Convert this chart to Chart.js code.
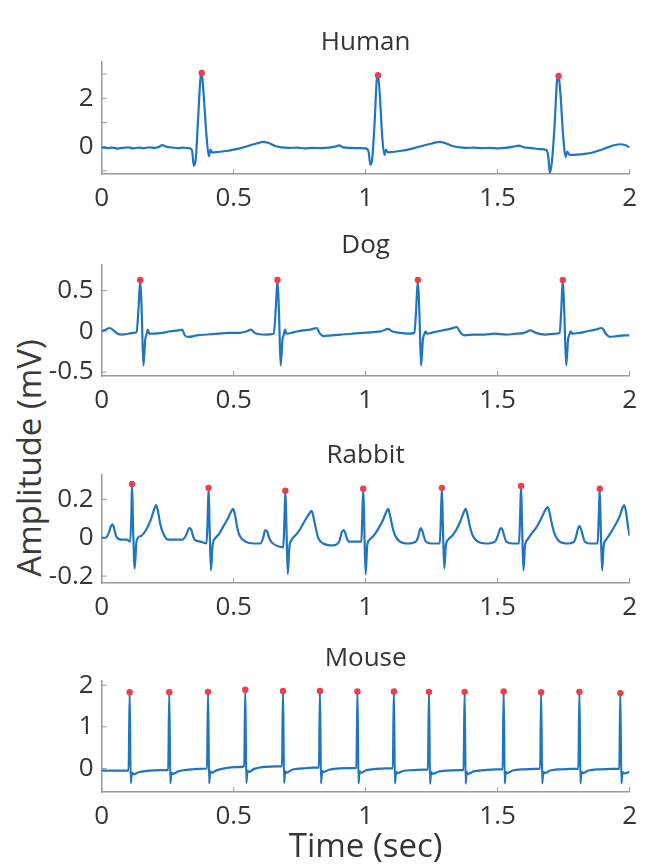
<!DOCTYPE html>
<html>
<head>
<meta charset="utf-8">
<script src="https://cdn.jsdelivr.net/npm/chart.js@4.4.1/dist/chart.umd.min.js"></script>
<style>
	html, body { margin: 0; padding: 0; background: #fff; }
	body { width: 646px; height: 866px; overflow: hidden; position: relative; font-family: 'Open Sans', sans-serif; }
	.panel { position: absolute; left: 0; }
	#ylab {
		position: absolute; left: 29px; top: 458px;
		transform: translate(-50%, -50%) rotate(-90deg);
		white-space: nowrap; font-size: 33px; line-height: 1.2; color: #3a3a3a;
	}
</style>
</head>
<body>

<div id="ylab">Amplitude (mV)</div>

<script>
// ---- data: [time (s), amplitude (mV)] ----
const timeTicks = [0, 0.5, 1, 1.5, 2];

const humanTrace = [
	[0,-0.03],[0.02,-0.06],[0.04,-0.04],[0.06,-0.08],[0.08,-0.05],[0.1,-0.03],[0.12,-0.07],[0.14,-0.04],
	[0.16,-0.06],[0.18,-0.03],[0.2,-0.05],[0.215,-0.02],[0.23,0.06],[0.245,0.0],[0.27,-0.04],[0.29,-0.06],
	[0.31,-0.04],[0.33,-0.06],[0.342,-0.15],[0.349,-0.78],[0.356,-0.55],[0.365,1.1],[0.374,2.8],[0.379,3.05],
	[0.386,2.2],[0.396,0.6],[0.406,-0.4],[0.412,-0.12],[0.418,-0.24],[0.44,-0.22],[0.47,-0.18],[0.5,-0.12],
	[0.53,-0.05],[0.56,0.05],[0.59,0.14],[0.61,0.2],[0.63,0.16],[0.655,0.04],[0.68,-0.03],[0.71,-0.05],
	[0.74,-0.04],[0.77,-0.07],[0.8,-0.05],[0.83,-0.06],[0.86,-0.04],[0.885,0.0],[0.9,0.05],[0.915,-0.03],
	[0.94,-0.05],[0.97,-0.06],[1.0,-0.07],[1.011,-0.2],[1.018,-0.75],[1.025,-0.5],[1.034,1.0],[1.042,2.75],
	[1.047,2.95],[1.054,2.1],[1.063,0.4],[1.071,-0.35],[1.077,-0.12],[1.084,-0.24],[1.1,-0.22],[1.13,-0.18],
	[1.16,-0.12],[1.19,-0.04],[1.22,0.05],[1.25,0.13],[1.28,0.2],[1.3,0.15],[1.325,0.04],[1.35,-0.02],
	[1.38,-0.05],[1.41,-0.04],[1.44,-0.06],[1.47,-0.05],[1.5,-0.07],[1.53,-0.05],[1.56,0.0],[1.58,0.04],
	[1.6,-0.03],[1.63,-0.06],[1.66,-0.1],[1.685,-0.14],[1.692,-0.4],[1.698,-1.08],[1.706,-0.6],[1.716,0.9],
	[1.725,2.7],[1.731,2.92],[1.738,2.2],[1.748,0.5],[1.758,-0.42],[1.764,-0.2],[1.772,-0.34],[1.8,-0.33],
	[1.83,-0.3],[1.86,-0.24],[1.89,-0.14],[1.92,-0.02],[1.945,0.07],[1.965,0.1],[1.985,0.06],[2.0,-0.03]
];
const humanPeakTime = [0.379, 1.047, 1.731];
const humanPeakAmp = [3.05, 2.95, 2.92];

const dogTrace = [
	[0,0.0],[0.015,0.02],[0.03,0.04],[0.045,0.01],[0.06,-0.03],[0.08,-0.04],[0.1,-0.03],[0.12,-0.02],
	[0.132,-0.01],[0.139,0.25],[0.146,0.63],[0.152,0.2],[0.158,-0.42],[0.165,-0.1],[0.17,-0.04],[0.175,0.02],
	[0.18,-0.03],[0.2,-0.03],[0.23,-0.02],[0.26,0.0],[0.29,0.01],[0.305,0.02],[0.315,-0.05],[0.33,-0.07],
	[0.36,-0.05],[0.4,-0.04],[0.44,-0.03],[0.48,-0.02],[0.52,-0.02],[0.55,0.0],[0.565,0.02],[0.58,-0.02],
	[0.62,-0.04],[0.652,-0.03],[0.659,0.25],[0.666,0.63],[0.672,0.2],[0.678,-0.42],[0.685,-0.1],[0.69,-0.04],
	[0.695,0.02],[0.7,-0.03],[0.73,-0.01],[0.76,0.01],[0.79,0.02],[0.815,0.04],[0.825,-0.02],[0.84,-0.06],
	[0.87,-0.05],[0.91,-0.04],[0.95,-0.03],[0.99,-0.02],[1.03,-0.01],[1.06,0.0],[1.085,0.03],[1.1,0.0],
	[1.13,-0.02],[1.16,-0.03],[1.185,-0.02],[1.191,0.25],[1.198,0.63],[1.204,0.2],[1.21,-0.42],[1.217,-0.1],
	[1.222,-0.04],[1.227,0.0],[1.232,-0.03],[1.26,-0.01],[1.29,0.01],[1.32,0.03],[1.345,0.05],[1.36,-0.02],
	[1.375,-0.05],[1.41,-0.04],[1.45,-0.04],[1.49,-0.03],[1.53,-0.04],[1.57,-0.03],[1.6,-0.02],[1.625,0.01],
	[1.645,-0.02],[1.68,-0.04],[1.72,-0.03],[1.735,-0.02],[1.741,0.25],[1.747,0.63],[1.753,0.2],[1.76,-0.42],
	[1.767,-0.1],[1.772,-0.04],[1.777,0.0],[1.782,-0.03],[1.81,-0.02],[1.84,0.0],[1.87,0.02],[1.895,0.04],
	[1.91,-0.03],[1.925,-0.07],[1.95,-0.06],[1.98,-0.05],[2.0,-0.05]
];
const dogPeakTime = [0.146, 0.666, 1.198, 1.747];
const dogPeakAmp = [0.63, 0.63, 0.63, 0.63];

const rabbitTrace = [
	[0,0.0],[0.015,0.0],[0.028,0.03],[0.035,0.06],[0.04,0.07],[0.046,0.055],[0.052,0.02],[0.058,0.0],
	[0.075,-0.01],[0.095,-0.01],[0.108,-0.02],[0.112,0.1],[0.115,0.28],[0.119,0.05],[0.125,-0.16],[0.131,-0.03],
	[0.137,0.0],[0.15,0.01],[0.168,0.04],[0.185,0.09],[0.197,0.14],[0.206,0.17],[0.213,0.14],[0.222,0.07],
	[0.231,0.03],[0.25,-0.01],[0.28,-0.01],[0.306,-0.01],[0.322,0.02],[0.329,0.045],[0.334,0.05],[0.34,0.04],
	[0.346,0.01],[0.352,-0.01],[0.375,-0.02],[0.397,-0.03],[0.401,0.08],[0.405,0.26],[0.409,0.05],[0.414,-0.17],
	[0.42,-0.04],[0.432,0.0],[0.445,0.02],[0.457,0.05],[0.478,0.1],[0.49,0.135],[0.498,0.15],[0.505,0.12],
	[0.514,0.05],[0.523,0.01],[0.545,-0.02],[0.575,-0.03],[0.601,-0.03],[0.612,0.0],[0.618,0.035],[0.622,0.04],
	[0.628,0.03],[0.634,0.0],[0.642,-0.02],[0.66,-0.04],[0.688,-0.05],[0.692,0.08],[0.696,0.245],[0.7,0.05],
	[0.705,-0.19],[0.711,-0.05],[0.72,-0.01],[0.732,0.01],[0.745,0.03],[0.77,0.09],[0.786,0.125],[0.795,0.14],
	[0.802,0.11],[0.811,0.05],[0.82,0.0],[0.839,-0.03],[0.876,-0.04],[0.9,-0.02],[0.91,0.03],[0.916,0.04],
	[0.922,0.03],[0.928,0.0],[0.936,-0.02],[0.955,-0.02],[0.984,-0.02],[0.987,0.1],[0.991,0.255],[0.995,0.05],
	[1.0,-0.19],[1.006,-0.04],[1.015,-0.01],[1.03,0.01],[1.045,0.04],[1.065,0.09],[1.077,0.13],[1.085,0.15],
	[1.092,0.12],[1.101,0.06],[1.112,0.01],[1.13,-0.02],[1.16,-0.03],[1.19,-0.02],[1.2,0.01],[1.205,0.04],
	[1.209,0.05],[1.214,0.04],[1.22,0.01],[1.228,-0.02],[1.25,-0.03],[1.281,-0.03],[1.285,0.1],[1.289,0.26],
	[1.293,0.05],[1.298,-0.16],[1.304,-0.04],[1.313,-0.01],[1.328,0.01],[1.343,0.04],[1.36,0.09],[1.371,0.13],
	[1.379,0.15],[1.386,0.12],[1.395,0.06],[1.406,0.01],[1.425,-0.02],[1.455,-0.03],[1.49,-0.02],[1.503,0.02],
	[1.509,0.045],[1.514,0.05],[1.519,0.04],[1.525,0.01],[1.533,-0.02],[1.555,-0.03],[1.581,-0.03],[1.585,0.1],
	[1.589,0.27],[1.593,0.05],[1.598,-0.17],[1.604,-0.04],[1.613,-0.01],[1.628,0.02],[1.645,0.05],[1.665,0.1],
	[1.681,0.145],[1.69,0.16],[1.697,0.13],[1.706,0.07],[1.716,0.02],[1.735,-0.02],[1.765,-0.03],[1.79,-0.02],
	[1.8,0.02],[1.805,0.05],[1.81,0.06],[1.815,0.05],[1.821,0.02],[1.83,-0.02],[1.85,-0.03],[1.879,-0.03],
	[1.883,0.1],[1.887,0.255],[1.891,0.05],[1.896,-0.17],[1.902,-0.04],[1.911,-0.01],[1.926,0.02],[1.943,0.06],
	[1.962,0.11],[1.973,0.155],[1.98,0.17],[1.987,0.13],[1.994,0.06],[2.0,0.01]
];
const rabbitPeakTime = [0.115, 0.405, 0.696, 0.991, 1.289, 1.589, 1.887];
const rabbitPeakAmp = [0.28, 0.26, 0.245, 0.255, 0.26, 0.27, 0.255];

const mouseTrace = [
	[0,-0.05],[0.05,-0.05],[0.102,-0.05],[0.106,1.83],[0.11,-0.36],[0.114,-0.1],[0.12,-0.14],[0.14,-0.09],
	[0.18,-0.05],[0.22,-0.04],[0.252,-0.04],[0.256,1.83],[0.26,-0.36],[0.264,-0.1],[0.27,-0.13],[0.29,-0.07],
	[0.33,-0.03],[0.37,-0.01],[0.399,0.0],[0.403,1.84],[0.407,-0.36],[0.411,-0.07],[0.417,-0.1],[0.437,-0.04],
	[0.47,0.01],[0.51,0.03],[0.54,0.05],[0.544,1.89],[0.548,-0.35],[0.552,-0.05],[0.558,-0.08],[0.578,-0.01],
	[0.62,0.04],[0.66,0.05],[0.683,0.05],[0.687,1.86],[0.691,-0.35],[0.695,-0.07],[0.701,-0.1],[0.721,-0.03],
	[0.76,0.0],[0.8,0.02],[0.823,0.02],[0.827,1.86],[0.831,-0.36],[0.835,-0.06],[0.841,-0.09],[0.861,-0.03],
	[0.9,0.0],[0.94,0.01],[0.965,0.01],[0.969,1.85],[0.973,-0.36],[0.977,-0.07],[0.983,-0.1],[1.003,-0.04],
	[1.04,-0.01],[1.08,0.0],[1.103,0.0],[1.107,1.85],[1.111,-0.36],[1.115,-0.08],[1.121,-0.11],[1.141,-0.06],
	[1.18,-0.04],[1.215,-0.03],[1.236,-0.03],[1.24,1.84],[1.244,-0.37],[1.248,-0.09],[1.254,-0.13],[1.274,-0.08],
	[1.31,-0.05],[1.35,-0.04],[1.371,-0.04],[1.375,1.84],[1.379,-0.37],[1.383,-0.09],[1.389,-0.13],[1.409,-0.07],
	[1.45,-0.04],[1.49,-0.02],[1.519,-0.02],[1.523,1.85],[1.527,-0.36],[1.531,-0.08],[1.537,-0.11],[1.557,-0.05],
	[1.6,-0.02],[1.64,-0.01],[1.661,-0.01],[1.665,1.83],[1.669,-0.36],[1.673,-0.08],[1.679,-0.11],[1.699,-0.05],
	[1.74,-0.02],[1.78,-0.01],[1.806,-0.01],[1.81,1.84],[1.814,-0.36],[1.818,-0.08],[1.824,-0.11],[1.844,-0.05],
	[1.89,-0.02],[1.93,-0.01],[1.961,-0.01],[1.965,1.81],[1.969,-0.36],[1.973,-0.09],[1.979,-0.12],[2.0,-0.08]
];
const mousePeakTime = [0.106, 0.256, 0.403, 0.544, 0.687, 0.827, 0.969, 1.107, 1.24, 1.375, 1.523, 1.665, 1.81, 1.965];
const mousePeakAmp = [1.83, 1.83, 1.84, 1.89, 1.86, 1.86, 1.85, 1.85, 1.84, 1.84, 1.85, 1.83, 1.84, 1.81];

// ---- look ----
var lineBlue = 'rgb(32,118,190)';
var peakRed = 'rgb(236,62,78)';
var textGray = '#353535';
var axisGray = '#9a9a9a';
var fontFam = "'Open Sans', sans-serif";

// MATLAB style ticks pointing into the plot
var innerTicks = {
	id: 'innerTicks',
	beforeDatasetsDraw: function (chart) {
		var ctx = chart.ctx, a = chart.chartArea;
		var xs = chart.scales.x, ys = chart.scales.y;
		ctx.save();
		ctx.strokeStyle = axisGray;
		ctx.lineWidth = 1;
		ctx.beginPath();
		xs.ticks.forEach(function (t) {
			var p = xs.getPixelForValue(t.value);
			ctx.moveTo(p, a.bottom);
			ctx.lineTo(p, a.bottom - 5);
		});
		ys.ticks.forEach(function (t) {
			var p = ys.getPixelForValue(t.value);
			ctx.moveTo(a.left, p);
			ctx.lineTo(a.left + 5, p);
		});
		ctx.stroke();
		ctx.restore();
	}
};

// panel boxes in page pixels (title centre, plot top / bottom)
var panels = [
	{ title: 'Human',  trace: humanTrace,  pt: humanPeakTime,  pv: humanPeakAmp,
	  titleY: 43, top: 62, bottom: 174, ymin: -1.13, ymax: 3.5, step: 1,
	  label: function (v) { return v % 2 === 0 ? String(v) : ''; } },
	{ title: 'Dog',    trace: dogTrace,    pt: dogPeakTime,    pv: dogPeakAmp,
	  titleY: 246, top: 265, bottom: 376, ymin: -0.55, ymax: 0.815, step: 0.5 },
	{ title: 'Rabbit', trace: rabbitTrace, pt: rabbitPeakTime, pv: rabbitPeakAmp,
	  titleY: 456, top: 475, bottom: 583, ymin: -0.236, ymax: 0.327, step: 0.2 },
	{ title: 'Mouse',  trace: mouseTrace,  pt: mousePeakTime,  pv: mousePeakAmp,
	  titleY: 659, top: 681, bottom: 792, ymin: -0.57, ymax: 2.1, step: 1, xlabel: 'Time (sec)' }
];

var plotLeft = 101.7, plotRight = 635;
var tickSize = 26, titleSize = 26, labelSize = 33;

panels.forEach(function (p) {
	var titleLH = titleSize * 1.2;
	var canvTop = Math.round(p.titleY - titleLH / 2);
	var titlePadBottom = p.top - canvTop - titleLH;
	var xPadBottom = 2;
	var xHeight = p.xlabel ? (847 - p.bottom + labelSize * 0.6 + xPadBottom) : 45;
	var canvH = Math.round(p.bottom + xHeight - canvTop);

	var wrap = document.createElement('div');
	wrap.className = 'panel';
	wrap.style.top = canvTop + 'px';
	var canv = document.createElement('canvas');
	canv.width = 646;
	canv.height = canvH;
	canv.style.width = '646px';
	canv.style.height = canvH + 'px';
	wrap.appendChild(canv);
	document.body.appendChild(wrap);

	new Chart(canv, {
		type: 'scatter',
		data: {
			datasets: [{
				data: p.pt.map(function (t, i) { return { x: t, y: p.pv[i] }; }),
				showLine: false,
				pointRadius: 3.2,
				pointBackgroundColor: peakRed,
				pointBorderColor: peakRed,
				pointBorderWidth: 0,
				order: 0
			}, {
				data: p.trace.map(function (d) { return { x: d[0], y: d[1] }; }),
				showLine: true,
				borderColor: lineBlue,
				borderWidth: 2.2,
				pointRadius: 0,
				cubicInterpolationMode: 'monotone',
				order: 1
			}]
		},
		plugins: [innerTicks],
		options: {
			responsive: false,
			animation: false,
			events: [],
			layout: { padding: { left: 0, right: 646 - plotRight, top: 0, bottom: 0 } },
			scales: {
				x: {
					type: 'linear',
					min: timeTicks[0],
					max: timeTicks[timeTicks.length - 1],
					afterFit: function (scale) { scale.height = xHeight; },
					afterBuildTicks: function (scale) {
						scale.ticks = timeTicks.map(function (v) { return { value: v }; });
					},
					grid: { display: false, drawTicks: false },
					border: { display: true, color: axisGray, width: 1.5 },
					ticks: {
						autoSkip: false,
						maxRotation: 0,
						padding: 9,
						color: textGray,
						font: { family: fontFam, size: tickSize },
						callback: function (v) { return String(v); }
					},
					title: {
						display: !!p.xlabel,
						text: p.xlabel || '',
						color: textGray,
						padding: { top: 0, bottom: xPadBottom },
						font: { family: fontFam, size: labelSize }
					}
				},
				y: {
					type: 'linear',
					min: p.ymin,
					max: p.ymax,
					afterFit: function (scale) { scale.width = plotLeft; },
					grid: { display: false, drawTicks: false },
					border: { display: true, color: axisGray, width: 1.5 },
					ticks: {
						stepSize: p.step,
						includeBounds: false,
						autoSkip: false,
						padding: 8,
						color: textGray,
						font: { family: fontFam, size: tickSize },
						callback: p.label || function (v) { return String(v); }
					}
				}
			},
			plugins: {
				legend: { display: false },
				tooltip: { enabled: false },
				title: {
					display: true,
					text: p.title,
					fullSize: false,
					color: textGray,
					font: { family: fontFam, size: titleSize, weight: 'normal' },
					padding: { top: 0, bottom: titlePadBottom }
				}
			}
		}
	});
});
</script>
</body>
</html>
